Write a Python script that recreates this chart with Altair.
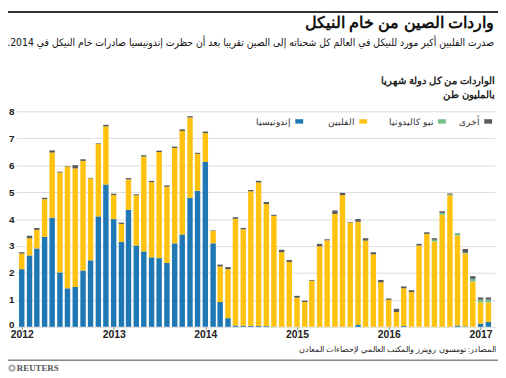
import altair as alt
import pandas as pd

# ---------------- data ----------------
months = pd.date_range("2012-01-01", "2017-02-01", freq="MS").strftime("%Y-%m-%d").tolist()

indonesia = [2.14, 2.65, 2.91, 3.34, 4.05, 2.02, 1.43, 1.48, 2.09, 2.47, 4.10, 5.28,
             4.00, 3.15, 4.34, 3.02, 2.80, 2.58, 2.55, 2.37, 3.10, 3.43, 4.79, 5.05,
             6.12, 3.10, 0.92, 0.32, 0.05, 0.04, 0.04, 0.03, 0.03, 0.01, 0.00, 0.00,
             0.00, 0.00, 0.00, 0.00, 0.00, 0.00, 0.00, 0.00, 0.07, 0.00, 0.00, 0.00,
             0.00, 0.00, 0.03, 0.00, 0.00, 0.00, 0.00, 0.00, 0.00, 0.05, 0.02, 0.00,
             0.12, 0.18]
philippines = [0.58, 0.64, 0.69, 1.40, 2.42, 3.71, 4.52, 4.40, 4.07, 3.04, 2.70, 2.16,
               0.89, 0.67, 1.13, 1.86, 3.52, 2.79, 3.94, 2.83, 3.54, 3.84, 2.98, 1.37,
               1.07, 0.46, 1.32, 1.82, 3.96, 3.58, 4.99, 5.33, 4.53, 4.11, 2.77, 2.41,
               1.08, 0.92, 1.71, 2.99, 3.21, 4.19, 4.89, 3.87, 3.83, 3.20, 2.69, 1.65,
               1.00, 0.55, 1.40, 1.29, 3.02, 3.45, 3.17, 4.16, 4.88, 3.34, 2.70, 1.68,
               0.79, 0.73]
new_caledonia = [0.00] * 54 + [0.06, 0.07, 0.03, 0.09, 0.03, 0.10, 0.10, 0.10]
other = [0.05, 0.09, 0.07, 0.05, 0.08, 0.03, 0.02, 0.12, 0.06, 0.02, 0.02, 0.06,
         0.05, 0.05, 0.05, 0.04, 0.05, 0.05, 0.05, 0.05, 0.05, 0.06, 0.05, 0.04,
         0.06, 0.02, 0.07, 0.08, 0.06, 0.05, 0.05, 0.06, 0.07, 0.04, 0.09, 0.07,
         0.07, 0.05, 0.03, 0.09, 0.04, 0.13, 0.08, 0.02, 0.10, 0.09, 0.08, 0.09,
         0.05, 0.12, 0.07, 0.07, 0.06, 0.06, 0.06, 0.06, 0.04, 0.00, 0.14, 0.10,
         0.08, 0.08]

series_names = ["إندونيسيا", "الفلبين", "نيو كاليدونيا", "أخرى"]
series_colors = ["#1f78b4", "#ffc20e", "#72bf8b", "#5a5a5a"]
year_ticks = ["2012-01-01", "2013-01-01", "2014-01-01", "2015-01-01", "2016-01-01", "2017-01-01"]
y_ticks = [0, 1, 2, 3, 4, 5, 6, 7, 8]

title_text = "واردات الصين من خام النيكل"
subtitle_text = "صدرت الفلبين أكبر مورد للنيكل في العالم كل شحناته إلى الصين تقريبا بعد أن حظرت إندونيسيا صادرات خام النيكل في 2014.\u200f"
axis_title_1 = "الواردات من كل دولة شهريا"
axis_title_2 = "بالمليون طن"
source_text = "المصادر: تومسون رويترز والمكتب العالمي لإحصاءات المعادن"
brand_text = "REUTERS"

FONT = "Liberation Sans"
AR_COND = "DejaVu Sans Condensed"

# ---------------- build ----------------
rows = []
for s_i, (name, vals) in enumerate(zip(series_names, [indonesia, philippines, new_caledonia, other])):
    for m, v in zip(months, vals):
        rows.append({"date": m, "series": name, "value": v, "ord": s_i})
df = pd.DataFrame(rows)

ms = lambda s: int(pd.Timestamp(s, tz="UTC").value // 10**6)
x_domain = [ms("2011-12-28T04:00"), ms("2017-02-08T00:00")]

bars = alt.Chart(df).mark_bar(size=5.5).encode(
    x=alt.X("date:T",
            scale=alt.Scale(type="utc", domain=x_domain),
            axis=alt.Axis(values=[ms(t) for t in year_ticks], format="%Y", title=None,
                          grid=False, domain=False, ticks=True, tickSize=3, tickColor="#888888",
                          labelFont=FONT, labelFontSize=10.5, labelFontWeight="bold",
                          labelColor="#222222", labelPadding=0, labelFlush=False)),
    y=alt.Y("value:Q", stack="zero",
            scale=alt.Scale(domain=[0, 8], nice=False),
            axis=alt.Axis(values=y_ticks, title=None, grid=True, gridColor="#dcdcdc",
                          gridWidth=1, domain=False, ticks=False, labelFont=FONT,
                          labelFontSize=10, labelFontWeight="bold", labelColor="#222222",
                          labelPadding=2,
                          labelOffset={"condition": {"test": "datum.value === 0", "value": -2},
                                       "value": 0})),
    color=alt.Color("series:N", scale=alt.Scale(domain=series_names, range=series_colors),
                    legend=None),
    order=alt.Order("ord:Q", sort="ascending"),
)


def txt(s, x, y, size, weight="normal", align="right", color="#222222", font=FONT):
    return alt.Chart(pd.DataFrame({"t": [s]})).mark_text(
        align=align, baseline="middle", fontSize=size, fontWeight=weight,
        color=color, font=font
    ).encode(x=alt.value(x), y=alt.value(y), text="t:N")


def rect(x1, x2, y1, y2, color):
    return alt.Chart(pd.DataFrame({"a": [0]})).mark_rect(color=color).encode(
        x=alt.value(x1), x2=alt.value(x2), y=alt.value(y1), y2=alt.value(y2))


def hline(x1, x2, y, color, w):
    return alt.Chart(pd.DataFrame({"a": [0]})).mark_rule(color=color, strokeWidth=w).encode(
        x=alt.value(x1), x2=alt.value(x2), y=alt.value(y))


layers = [bars]
# titles
layers.append(hline(-8, 490, -101, "#333333", 2))
layers.append(txt(title_text, 486, -90, 16, "bold", color="#111111"))
layers.append(txt(subtitle_text, 486, -69.5, 10.5, "normal", color="#111111", font=AR_COND))
layers.append(txt(axis_title_1, 487, -31, 10, "bold", color="#222222"))
layers.append(txt(axis_title_2, 487, -17, 10, "bold", color="#222222"))

# legend (right to left)
leg_centers = [288, 353, 433, 480]
for name, col, cx in zip(series_names, series_colors, leg_centers):
    layers.append(rect(cx - 4, cx + 4, 8, 12.5, col))
    layers.append(txt(name, cx - 8, 10.5, 9.5, "normal", color="#333333"))

# footer
layers.append(txt(source_text, 488, 243, 8, "normal", color="#222222"))
layers.append(hline(-8, 490, 253, "#888888", 1.5))
layers.append(alt.Chart(pd.DataFrame({"a": [0]})).mark_point(
    shape="circle", filled=False, color="#888888", strokeWidth=2, size=28).encode(
    x=alt.value(-4), y=alt.value(261)))
layers.append(txt(brand_text, 1, 261, 9, "bold", align="left", color="#555555",
                  font="Liberation Sans Narrow"))

chart = alt.layer(*layers).properties(
    width=487, height=219,
    padding={"left": 8, "top": 102, "right": 3, "bottom": 49},
    autosize=alt.AutoSizeParams(type="none"),
).configure_view(stroke=None)

chart.save("out.html", embed_options={"renderer": "svg", "actions": False})
